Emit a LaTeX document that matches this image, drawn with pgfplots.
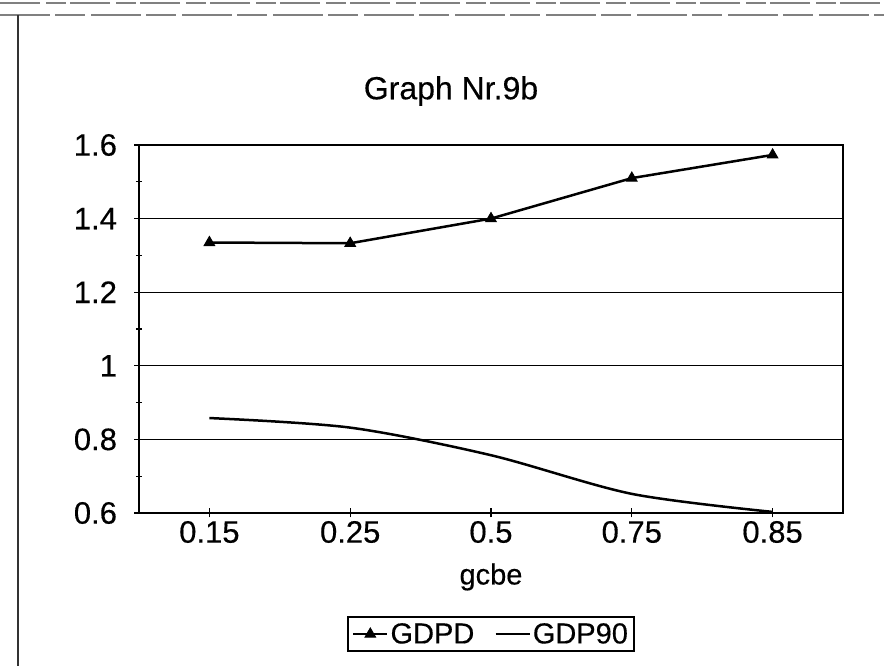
\documentclass[border=0pt]{standalone}
\usepackage{pgfplots}
\pgfplotsset{compat=1.18}
\usepackage{fontspec}
\setmainfont[FakeBold=0.35]{Liberation Sans}
\begin{document}
\begin{tikzpicture}[x=1pt,y=1pt]
\path[use as bounding box] (0,0) rectangle (884,666);
\draw[black!50, line width=1.2pt, dash pattern=on 40pt off 6pt on 20pt off 4pt] (0,663) -- (884,663);
\draw[black!50, line width=1.2pt, dash pattern=on 50pt off 5pt on 30pt off 6pt] (0,651) -- (884,651);
\draw[black!80, line width=1.3pt] (18,0) -- (18,651);
\node[font=\fontsize{32}{36}\selectfont] at (451,575) {Graph Nr.9b};
\begin{axis}[at={(139pt,153pt)}, anchor=south west,
  width=704pt, height=368pt, scale only axis,
  xmin=-0.5, xmax=4.5, ymin=0.6, ymax=1.6,
  xtick={0,1,2,3,4}, xticklabels={0.15,0.25,0.5,0.75,0.85},
  ytick={0.6,0.8,1,1.2,1.4,1.6}, yticklabels={0.6,0.8,1,1.2,1.4,1.6},
  minor ytick={0.7,0.9,1.1,1.3,1.5},
  xtick pos=bottom, ytick pos=left,
  ymajorgrids, major grid style={black, line width=1.3pt},
  axis line style={black, line width=2pt},
  tick style={black, line width=1.2pt}, major tick length=9pt, minor tick length=6pt,
  tick align=center,
  ticklabel style={font=\fontsize{31}{36}\selectfont},
  /pgf/number format/assume math mode=true,
  xticklabel style={yshift=0pt},
  yticklabel style={xshift=-14pt},
  xlabel={gcbe},
  xlabel style={font=\fontsize{29}{33}\selectfont, at={(axis description cs:0.5,0)}, anchor=center, yshift=-64pt},
  legend style={at={(0.5,-0.329)}, anchor=center, legend columns=-1, draw=black, line width=1.5pt,
    font=\fontsize{29}{33}\selectfont, inner sep=4pt,
    /tikz/every even column/.append style={column sep=18pt}},
  legend image code/.code={\draw[mark repeat=2,mark phase=2,#1] plot coordinates {(0pt,0pt) (17pt,0pt) (34pt,0pt)};},
  clip=false
]
\addplot[black, line width=2.5pt, mark=triangle*, mark size=6pt, mark options={line width=1pt}]
  coordinates {(0,1.335) (1,1.333) (2,1.400) (3,1.510) (4,1.573)};
\addlegendentry{GDPD}
\addplot[black, line width=2.5pt, smooth, no marks]
  coordinates {(0,0.858) (1,0.832) (2,0.757) (3,0.652) (4,0.603)};
\addlegendentry{GDP90}
\end{axis}
\end{tikzpicture}
\end{document}
